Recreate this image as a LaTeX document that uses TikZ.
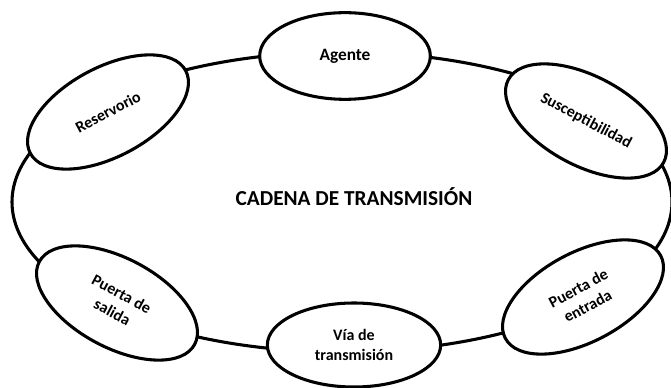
\documentclass[tikz,border=0pt]{standalone}
\usepackage{fontspec}
\setmainfont{Carlito}
\usetikzlibrary{shapes.geometric}

\begin{document}
\begin{tikzpicture}[x=0.75pt,y=0.75pt,yscale=-1,xscale=1,
  eslabon/.style={draw, ellipse, line width=2.3pt, fill=white, minimum width=128pt, minimum height=65pt, inner sep=0.75pt, align=center, font=\bfseries\fontsize{12}{15}\selectfont},
  inclinado/.style={eslabon, minimum width=132pt, minimum height=67pt}]
\useasboundingbox (0,0) rectangle (671,388);

%Shape: Ellipse [id:cadena]
\node (cadena) at (342,202) [draw, ellipse, line width=2.3pt, minimum width=495pt, minimum height=225pt] {};

% Text Node
\node (titulo) at (354,197) [inner sep=0.75pt, font=\bfseries\fontsize{16}{19}\selectfont] {CADENA DE TRANSMISIÓN};

%Shape: Ellipse [id:agente]
\node (agente) at (345,56) [eslabon, font=\bfseries\fontsize{13}{15}\selectfont] {Agente};
%Shape: Ellipse [id:susceptibilidad]
\node (susceptibilidad) at (586,121) [inclinado, rotate=-28] {Susceptibilidad};
%Shape: Ellipse [id:entrada]
\node (entrada) at (583,297) [inclinado, rotate=28] {Puerta de\\entrada};
%Shape: Ellipse [id:via]
\node (via) at (354,345) [eslabon, minimum width=130pt, minimum height=63pt] {Vía de\\transmisión};
%Shape: Ellipse [id:salida]
\node (salida) at (117,303) [inclinado, rotate=-28] {Puerta de\\salida};
%Shape: Ellipse [id:reservorio]
\node (reservorio) at (108,112) [inclinado, rotate=28] {Reservorio};

\end{tikzpicture}
\end{document}
